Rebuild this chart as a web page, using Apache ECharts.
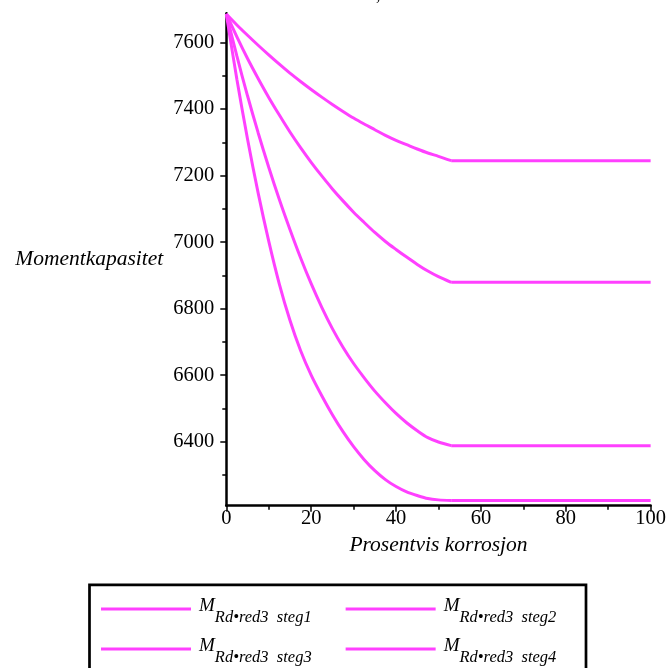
<!DOCTYPE html>
<html>
<head>
<meta charset="utf-8">
<script src="https://cdn.jsdelivr.net/npm/echarts@6/dist/echarts.min.js"></script>
<style>
html,body{margin:0;padding:0;background:#fff;}
#chart{width:669px;height:668px;}
</style>
</head>
<body>
<div id="chart"></div>
<script>
// x values (Prosentvis korrosjon); the last value is the end of the flat part
var xs = [0, 2.5, 5, 7.5, 10, 12.5, 15, 17.5, 20, 22.5, 25, 27.5, 30, 32.5, 35, 37.5, 40, 42.5, 45, 47.5, 50, 53, 100];
// Momentkapasitet per series
var steg1 = [7686, 7653, 7622, 7592, 7563, 7535, 7508, 7483, 7459, 7436, 7414, 7393, 7373, 7355, 7338, 7321, 7306, 7293, 7280, 7268, 7258, 7245, 7245];
var steg2 = [7686, 7617, 7552, 7492, 7435, 7382, 7331, 7284, 7240, 7199, 7160, 7124, 7090, 7059, 7029, 7002, 6978, 6955, 6933, 6913, 6896, 6879, 6879];
var steg3 = [7686, 7559, 7440, 7329, 7225, 7128, 7038, 6953, 6875, 6804, 6740, 6684, 6635, 6592, 6552, 6517, 6485, 6457, 6433, 6412, 6399, 6388, 6388];
var steg4 = [7686, 7489, 7310, 7148, 7003, 6874, 6765, 6674, 6600, 6538, 6481, 6430, 6385, 6346, 6313, 6286, 6265, 6249, 6238, 6229, 6225, 6223, 6223];
var seriesNames = ['steg1', 'steg2', 'steg3', 'steg4'];
var seriesValues = [steg1, steg2, steg3, steg4];
// axis ticks
var yMin = 6207.5, yMax = 7688;
var yMajor = [6400, 6600, 6800, 7000, 7200, 7400, 7600];
var yMinor = [6300, 6500, 6700, 6900, 7100, 7300, 7500];
var xTicks = [0, 20, 40, 60, 80, 100];

var color = '#ff40ff';
var serif = '"Liberation Serif", "DejaVu Serif", serif';

var chart = echarts.init(document.getElementById('chart'), null, {renderer: 'canvas'});

function legendFormatter(name) {
  return '{m|M}{s|Rd\u2022red3  ' + name + '}';
}
var legendRich = {
  m: {fontFamily: serif, fontStyle: 'italic', fontSize: 19, lineHeight: 20, verticalAlign: 'top', padding: [0, 0, 0, 3], color: '#000'},
  s: {fontFamily: serif, fontStyle: 'italic', fontSize: 16.5, lineHeight: 16, verticalAlign: 'top', padding: [13, 0, 0, 0], color: '#000'}
};
// legend sample: a 3px bar placed a little below the middle of a 20px box
var legendIcon = 'path://M0,0L0.01,0L0.01,0.01Z M0,11.5L90,11.5L90,14.5L0,14.5Z M0,20L0.01,20L0.01,19.99Z';
function makeLegend(data, top) {
  return {
    data: data,
    left: 101,
    top: top,
    padding: 0,
    orient: 'horizontal',
    icon: legendIcon,
    itemWidth: 90,
    itemHeight: 20,
    itemGap: 34,
    selectedMode: false,
    formatter: legendFormatter,
    textStyle: {rich: legendRich, fontFamily: serif}
  };
}

var lastCurve = xs.length - 2; // index where the flat part begins
var series = [];
seriesNames.forEach(function (n, i) {
  var pts = xs.map(function (x, j) { return [x, seriesValues[i][j]]; });
  series.push({
    name: n, type: 'line', showSymbol: false, symbol: 'none', clip: false,
    smooth: 0.3,
    lineStyle: {color: color, width: 3}, itemStyle: {color: color},
    data: pts.slice(0, lastCurve + 1)
  });
  series.push({
    name: n, type: 'line', showSymbol: false, symbol: 'none', clip: false,
    lineStyle: {color: color, width: 3}, itemStyle: {color: color},
    data: pts.slice(lastCurve)
  });
});

var option = {
  animation: false,
  backgroundColor: '#fff',
  grid: {left: 226.3, right: 14, top: 13.3, bottom: 162.3},
  legend: [makeLegend(['steg1', 'steg2'], 596), makeLegend(['steg3', 'steg4'], 636)],
  xAxis: {
    type: 'value',
    min: 0, max: 100, interval: 20,
    name: 'Prosentvis korrosjon',
    nameLocation: 'middle',
    nameGap: 40,
    nameMoveOverlap: false,
    nameTextStyle: {fontFamily: serif, fontStyle: 'italic', fontSize: 21.5, color: '#000', align: 'center', verticalAlign: 'middle'},
    axisLine: {show: true, onZero: false, lineStyle: {color: '#000', width: 2.5}},
    axisTick: {show: true, length: 6, lineStyle: {color: '#000', width: 1.5}},
    minorTick: {show: true, splitNumber: 2, length: 4, lineStyle: {color: '#000', width: 1.5}},
    axisLabel: {show: true, margin: 2, fontFamily: serif, fontSize: 20.5, color: '#000',
      customValues: xTicks, formatter: function (v) { return String(v); }},
    splitLine: {show: false},
    minorSplitLine: {show: false}
  },
  yAxis: [{
    type: 'value',
    min: yMin, max: yMax,
    name: 'Momentkapasitet',
    nameLocation: 'middle',
    nameRotate: 0,
    nameGap: 63,
    nameMoveOverlap: false,
    nameTextStyle: {fontFamily: serif, fontStyle: 'italic', fontSize: 21.5, color: '#000', align: 'right', verticalAlign: 'middle'},
    axisLine: {show: true, onZero: false, lineStyle: {color: '#000', width: 2.5}},
    axisTick: {show: true, length: 6, lineStyle: {color: '#000', width: 1.5}, customValues: yMajor},
    axisLabel: {show: true, margin: 12, fontFamily: serif, fontSize: 20.5, color: '#000', customValues: yMajor,
      formatter: function (v) { return String(v); }},
    splitLine: {show: false}
  }, {
    type: 'value',
    min: yMin, max: yMax,
    position: 'left',
    axisLine: {show: false},
    axisTick: {show: true, length: 4, lineStyle: {color: '#000', width: 1.5}, customValues: yMinor},
    axisLabel: {show: false},
    splitLine: {show: false}
  }],
  graphic: [
    {type: 'rect', silent: true, shape: {x: 89.5, y: 584.8, width: 496.5, height: 140},
      style: {fill: 'none', stroke: '#000', lineWidth: 2.7}},
    {type: 'text', silent: true, x: 376, y: -14, style: {text: ',', font: '18px ' + serif, fill: '#000'}}
  ],
  series: series
};
chart.setOption(option);
</script>
</body>
</html>
